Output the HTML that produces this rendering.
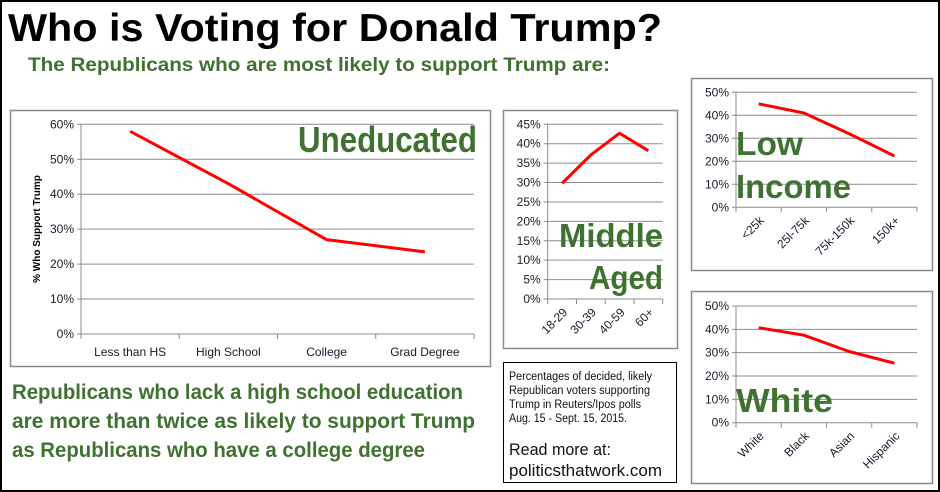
<!DOCTYPE html>
<html><head><meta charset="utf-8"><style>
html,body{margin:0;padding:0;background:#fff}
svg{display:block}
text{font-family:"Liberation Sans",sans-serif}
</style></head><body>
<svg id="s" width="940" height="492" viewBox="0 0 940 492" xmlns="http://www.w3.org/2000/svg">
<rect x="1" y="1" width="938" height="490" fill="#fff" stroke="#000" stroke-width="2"/>
<text x="8" y="41" font-size="39" font-weight="bold" fill="#000" textLength="654" lengthAdjust="spacingAndGlyphs">Who is Voting for Donald Trump?</text>
<text x="28" y="71" font-size="19" font-weight="bold" fill="#3f7131" textLength="582" lengthAdjust="spacingAndGlyphs">The Republicans who are most likely to support Trump are:</text>
<g fill="#3f7131" font-size="21" font-weight="bold">
<text x="12" y="399" textLength="451" lengthAdjust="spacingAndGlyphs">Republicans who lack a high school education</text>
<text x="12" y="428" textLength="463" lengthAdjust="spacingAndGlyphs">are more than twice as likely to support Trump</text>
<text x="12" y="457" textLength="413" lengthAdjust="spacingAndGlyphs">as Republicans who have a college degree</text>
</g>
<g>
<rect x="503.5" y="362.5" width="173" height="120" fill="#fff" stroke="#000" stroke-width="1"/>
<g font-size="11.5" fill="#111">
<text x="509" y="380" textLength="143" lengthAdjust="spacingAndGlyphs">Percentages of decided, likely</text>
<text x="509" y="394" textLength="141" lengthAdjust="spacingAndGlyphs">Republican voters supporting</text>
<text x="509" y="408" textLength="132" lengthAdjust="spacingAndGlyphs">Trump in Reuters/Ipos polls</text>
<text x="509" y="422" textLength="118" lengthAdjust="spacingAndGlyphs">Aug. 15 - Sept. 15, 2015.</text>
</g>
<text x="509" y="455" font-size="17" fill="#111" textLength="102" lengthAdjust="spacingAndGlyphs">Read more at:</text>
<text x="509" y="476" font-size="17" fill="#111" textLength="153" lengthAdjust="spacingAndGlyphs">politicsthatwork.com</text>
</g>
</svg>
<script>
const eduCats=["Less than HS","High School","College","Grad Degree"];
const eduVals=[58,43,27,23.5];
const eduTicks=[0,10,20,30,40,50,60];
const ageCats=["18-29","30-39","40-59","60+"];
const ageVals=[29.8,37.1,42.7,38.2];
const ageTicks=[0,5,10,15,20,25,30,35,40,45];
const incCats=["<25k","25l-75k","75k-150k","150k+"];
const incVals=[45,41,32,22.3];
const incTicks=[0,10,20,30,40,50];
const raceCats=["White","Black","Asian","Hispanic"];
const raceVals=[40.7,37.5,30.5,25.5];
const raceTicks=[0,10,20,30,40,50];

const NS="http://www.w3.org/2000/svg";
const svg=document.getElementById('s');
function mk(tag,attrs,parent){const e=document.createElementNS(NS,tag);for(const k in attrs)e.setAttribute(k,attrs[k]);(parent||svg).appendChild(e);return e;}

function chart(name,box,plot,cats,vals,ticks,rotate,label){
  const g=mk('g',{});
  
  
  const fr=mk('rect',{x:box[0]+.5,y:box[1]+.5,width:box[2]-box[0],height:box[3]-box[1],fill:'#fff',stroke:'#8a8a8a','stroke-width':1.5},g);
  
  
  const [x0,x1,y0,y1]=plot;
  const tmax=ticks[ticks.length-1];
  const ys=v=>y0-(v/tmax)*(y0-y1);
  const bw=(x1-x0)/cats.length;
  const xs=i=>x0+bw*(i+.5);
  ticks.forEach(t=>{
    const y=ys(t);
    const gl=mk('line',{x1:x0-4,x2:x1,y1:y,y2:y,stroke:'#8c8c8c','stroke-width':1},g);
    
    
    const tl=mk('text',{x:x0-7,y:y+4,'font-size':12,'text-anchor':'end',fill:'#1a1a2e'},g);
    tl.textContent=t+'%';
    
    
  });
  mk('line',{x1:x0,x2:x0,y1:y1,y2:y0,stroke:'#8c8c8c','stroke-width':1},g);
  for(let i=0;i<=cats.length;i++){
    mk('line',{x1:x0+bw*i,x2:x0+bw*i,y1:y0,y2:y0+5,stroke:'#8c8c8c','stroke-width':1},g);
  }
  cats.forEach((c,i)=>{
    let t;
    if(rotate){
      const x=xs(i)+6,y=y0+14;
      t=mk('text',{x:x,y:y,'font-size':12,'text-anchor':'end',fill:'#1a1a2e',transform:`rotate(-45 ${x} ${y})`},g);
    } else {
      t=mk('text',{x:xs(i),y:y0+22,'font-size':12,'text-anchor':'middle',fill:'#1a1a2e'},g);
    }
    t.textContent=c;
    
    
  });
  label.forEach(l=>{
    const t=mk('text',{x:l[1],y:l[2],'font-size':l[3],'font-weight':'bold',fill:'#3f7131',textLength:l[4],lengthAdjust:'spacingAndGlyphs'},g);
    t.textContent=l[0];
    
    
  });
  const p=mk('polyline',{points:vals.map((v,i)=>xs(i)+','+ys(v)).join(' '),fill:'none',stroke:'#ff0000','stroke-width':3,'stroke-linejoin':'round'},g);
  
  
  return g;
}
const eg=chart('education-chart',[10,110,490,366],[81,474,334,124.3],eduCats,eduVals,eduTicks,false,[["Uneducated",298,152,36,179]]);
const yt=mk('text',{x:0,y:0,'font-size':10,'font-weight':'bold','text-anchor':'middle',fill:'#000',transform:'translate(40,229) rotate(-90)'},eg);
yt.textContent='% Who Support Trump';


chart('age-chart',[503,110,677,348],[547.7,662.7,299,124.3],ageCats,ageVals,ageTicks,true,[["Middle",559,247,33,104],["Aged",589,289,33,74]]);
chart('income-chart',[691,78,932,270],[736,917,207.3,92.3],incCats,incVals,incTicks,true,[["Low",736,155,33,67],["Income",736,198,33,115]]);
chart('race-chart',[691,291,932,483],[736,917,422.7,306],raceCats,raceVals,raceTicks,true,[["White",736,412,33,97]]);
</script>
</body></html>
